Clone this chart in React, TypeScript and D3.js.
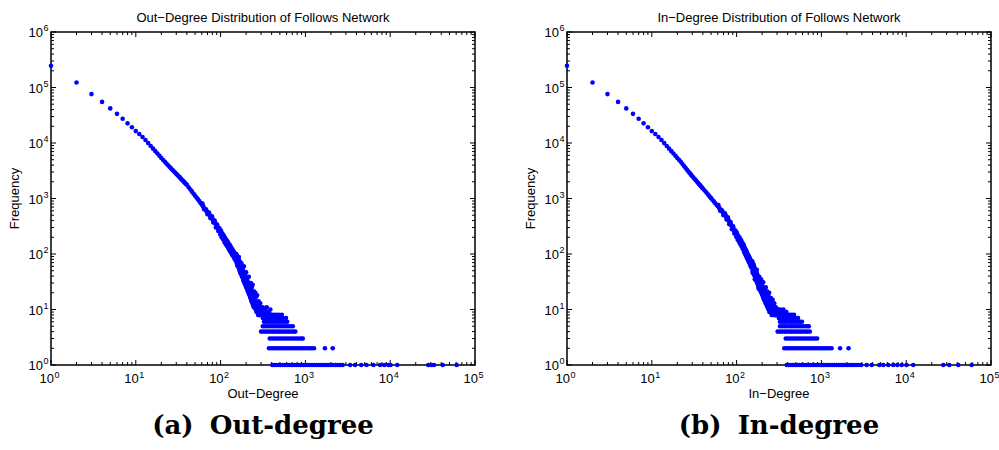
import React from "react";
import * as d3 from "d3";

// ---- out-degree: body of the distribution (degree -> number of users)
const outDeg = [
  1, 2, 3, 4, 5, 6, 7, 8, 9, 10, 11, 12, 13, 14, 15, 16, 17, 18, 19, 20,
  21, 22, 23, 24, 25, 26, 27, 28, 29, 30, 31, 32, 33, 34, 35, 36, 37, 38, 39, 40,
  42, 44, 46, 48, 50, 52, 54, 56, 58, 60, 62, 63, 65, 66, 68, 69, 71, 72, 74, 75,
  77, 78, 80, 81, 83, 84, 86, 87, 89, 90, 92, 93, 95, 96, 98, 100, 102, 104, 106, 108,
  110, 112, 114, 116, 118, 120, 122, 125, 127, 130, 132, 135, 137, 140, 142, 145, 147, 150,
  152, 155, 158, 161, 164, 167, 170, 173, 176, 179, 182, 185, 188, 191, 194, 197, 200,
  203, 206, 209, 212, 215, 218, 221, 224, 227, 230, 233, 236, 239, 242, 245, 248, 251,
  254, 257, 260, 263, 266, 269, 272, 275, 278, 281, 284, 287, 290, 293, 296, 299, 302,
  306, 310, 314, 318, 322, 326, 330, 335, 340, 345, 350, 356, 362, 370, 378, 386, 395,
];
const outFreq = [
  246000, 123000, 76000, 55000, 42000, 33500, 27400, 22600, 19200, 16400, 14500, 12800, 11300, 9950, 8850, 7910, 7130, 6460, 5870, 5380,
  4950, 4570, 4250, 3970, 3720, 3490, 3300, 3100, 2940, 2780, 2650, 2510, 2400, 2280, 2170, 2080, 1990, 1900, 1830, 1760,
  1590, 1455, 1330, 1220, 1125, 1040, 966, 897, 832, 776, 735, 698, 640, 632, 600, 578, 540, 531, 508, 488,
  455, 451, 437, 418, 389, 384, 368, 349, 322, 321, 312, 295, 271, 272, 265, 244, 226, 220, 215, 200,
  185, 182, 181, 167, 153, 154, 152, 140, 128, 127, 127, 116, 106, 106, 107, 98, 88, 90,
  78, 95, 62, 78, 88, 56, 63, 45, 68, 51, 57, 34, 60, 40, 45, 33, 47,
  37, 26, 38, 28, 39, 23, 29, 18, 30, 23, 25, 18, 28, 18, 13, 21, 18,
  13, 20, 14, 17, 10, 18, 11, 13, 9, 14, 10, 12, 8, 13, 9, 10, 8,
  10, 9, 11, 8, 10, 9, 8, 10, 9, 8, 11, 9, 8, 9, 8, 10, 8,
];
// the remaining degrees of the noisy middle part (60..300), shared by both plots
const midDeg = [
  61, 64, 67, 70, 73, 76, 79, 82, 85, 88, 91, 94, 97, 99, 101, 103, 105, 107, 109, 111,
  113, 115, 117, 119, 121, 123, 124, 126, 128, 129, 131, 133, 134, 136, 138, 139, 141, 143, 144, 146,
  148, 149,
  153, 154, 156, 157, 159, 160, 162, 163, 165, 166, 168, 169, 171, 172, 174, 175, 177, 178, 180, 181,
  183, 184, 186, 187, 189, 190, 192, 193, 195, 196, 198, 199, 201, 202, 204, 205, 207, 208, 210, 211,
  213, 214, 216, 217, 219, 220, 222, 223, 225, 226, 228, 229, 231, 232, 234, 235, 237, 238, 240, 241,
  243, 244, 246, 247,
  250, 253, 256, 259, 262, 265, 268, 271, 274, 277, 280, 283, 286, 289, 292, 295, 298,
];
const outMidFreq = [
  810, 640, 640, 520, 560, 440, 480, 370, 400, 300, 340, 260, 290, 225, 265, 200, 235, 185, 215, 165,
  195, 150, 180, 140, 168, 128, 155, 120, 146, 112, 138, 105, 128, 98, 121, 94, 113, 88, 108, 82,
  102, 78,
  100, 70, 92, 64, 85, 60, 82, 57, 76, 52, 72, 48, 70, 46, 63, 43, 60, 40, 55, 38,
  52, 36, 49, 33, 47, 31, 43, 29, 41, 28, 39, 26, 36, 25, 34, 24, 33, 22, 30, 21,
  29, 20, 27, 19, 25, 18, 24, 17, 23, 16, 22, 15, 20, 14, 19, 14, 18, 13, 17, 12,
  16, 12, 15, 11,
  14, 11, 14, 10, 13, 9, 12, 9, 11, 8, 11, 8, 10, 9, 10, 8, 9,
];
// out-degree tail: degrees seen only 1..8 times (list k holds frequency k+1)
const outTail1 = [
  407, 430, 455, 480, 510, 540, 575, 610, 650, 690, 735, 780, 830, 880, 940, 1000,
  1065, 1130, 1200, 1280, 1360, 1450, 1540, 1640, 1750, 1860, 1980, 2100, 2250, 2400,
  2560, 2750, 3370, 3850, 4560, 5250, 6330, 7600, 8500, 9500, 10100, 12100,
  28100, 30900, 32900, 41600, 60800,
];
const outTail2 = [372, 395, 420, 447, 475, 505, 537, 571, 607, 645, 686, 729, 775, 824, 876, 931, 990, 1052, 1118, 1190, 1265, 1700, 2100];
const outTail3 = [380, 405, 430, 458, 487, 518, 551, 586, 623, 662, 704, 749, 796, 846, 900, 930];
const outTail4 = [300, 319, 340, 362, 385, 410, 436, 464, 494, 525, 559, 595, 633, 673, 716, 760];
const outTail5 = [315, 335, 357, 380, 404, 430, 458, 487, 518, 551, 586, 624, 664, 710];
const outTail6 = [325, 346, 368, 392, 417, 444, 472, 502, 534, 568, 610];
const outTail7 = [315, 335, 357, 380, 404, 430, 458, 487, 515, 540, 590];
const outTail8 = [290, 310, 330, 352, 375, 400, 425, 455, 485, 527];

// ---- in-degree
const inDeg = outDeg;
const inFreq = [
  246000, 123000, 76000, 55000, 42000, 33500, 27400, 22600, 19200, 16400, 14500, 12800, 11300, 9950, 8850, 7910, 7130, 6460, 5870, 5380,
  4950, 4570, 4180, 3860, 3560, 3300, 3070, 2860, 2690, 2520, 2380, 2250, 2130, 2020, 1920, 1820, 1740, 1655, 1580, 1510,
  1390, 1280, 1180, 1090, 1015, 942, 880, 822, 771, 723, 690, 661, 625, 604, 580, 557, 520, 516, 498, 478,
  440, 434, 412, 393, 358, 356, 340, 322, 296, 295, 286, 270, 248, 248, 240, 222, 203, 200, 195, 181,
  168, 164, 163, 149, 138, 136, 137, 119, 108, 104, 106, 92, 85, 81, 84, 72, 66, 64,
  67, 46, 64, 48, 35, 51, 38, 52, 32, 36, 24, 39, 32, 24, 35, 24, 29,
  19, 31, 22, 18, 24, 18, 25, 13, 18, 21, 15, 18, 12, 20, 13, 15, 11,
  16, 12, 14, 9, 15, 10, 11, 9, 13, 9, 11, 8, 11, 9, 8, 10, 9,
  8, 10, 8, 9, 8, 10, 8, 9, 8, 9, 8, 10, 8, 9, 8, 9, 8,
];
const inMidFreq = [
  760, 600, 610, 500, 540, 420, 460, 345, 375, 280, 315, 235, 265, 205, 240, 180, 212, 165, 195, 148,
  178, 135, 160, 122, 148, 108, 132, 100, 120, 92, 112, 84, 102, 78, 95, 72, 88, 66, 82, 61,
  76, 57,
  74, 50, 68, 46, 62, 43, 58, 40, 54, 37, 50, 34, 48, 32, 44, 30, 41, 28, 38, 26,
  36, 25, 34, 23, 32, 22, 30, 21, 29, 20, 27, 19, 26, 18, 25, 17, 24, 16, 22, 15,
  21, 15, 20, 14, 19, 13, 18, 13, 17, 12, 17, 12, 16, 11, 15, 11, 14, 10, 14, 10,
  13, 9, 13, 9,
  12, 9, 11, 8, 11, 8, 10, 8, 10, 8, 9, 8, 9, 8, 9, 8, 9,
];
const inTail1 = [
  390, 412, 436, 462, 490, 520, 552, 586, 622, 660, 700, 742, 787, 835, 886, 940, 997,
  1058, 1122, 1190, 1262, 1340, 1420, 1510, 1600, 1700, 1800, 1910, 2030, 2150, 2280,
  2420, 2570, 2750, 2950, 3420, 3920, 4820, 5370, 6150, 7050, 7860, 8850, 10100, 12100,
  27400, 32200, 41200, 59200,
];
const inTail2 = [365, 388, 412, 438, 465, 494, 525, 558, 593, 630, 670, 712, 757, 805, 856, 910, 967, 1028, 1093, 1162, 1235, 1320, 1660, 2090];
const inTail3 = [380, 404, 429, 456, 485, 515, 548, 582, 619, 658, 700, 744, 791, 841, 890];
const inTail4 = [305, 324, 345, 367, 390, 415, 441, 469, 499, 531, 565, 601, 640, 682, 730];
const inTail5 = [325, 346, 368, 392, 417, 444, 472, 502, 534, 568, 604, 642, 683, 710];
const inTail6 = [325, 346, 368, 392, 417, 444, 472, 502, 534, 560, 590];
const inTail7 = [315, 335, 357, 380, 404, 430, 458, 487, 530];
const inTail8 = [285, 305, 326, 348, 371, 395, 420, 447, 476];

const xDomain = [1, 1e5];
const yDomain = [1, 1e6];

const SANS = "'Liberation Sans', Arial, sans-serif";
const SERIF = "'DejaVu Serif', serif";

const isDecade = (v: number) => Math.abs(Math.log10(v) - Math.round(Math.log10(v))) < 1e-9;

type PanelProps = {
  left: number;
  title: string;
  xName: string;
  tag: string;
  capText: string;
  deg: number[];
  freq: number[];
  midFreq: number[];
  tail: number[][];
};

const Panel = ({ left, title, xName, tag, capText, deg, freq, midFreq, tail }: PanelProps) => {
  const top = 32;
  const bottom = 365;
  const right = left + 424;

  const x = d3.scaleLog().domain(xDomain).range([left, right]);
  const y = d3.scaleLog().domain(yDomain).range([bottom, top]);

  // every point of the plot: body, noisy middle, then the low-count tail
  const pts: [number, number][] = deg.map((d, i) => [d, freq[i]]);
  midDeg.forEach((d, i) => pts.push([d, midFreq[i]]));
  tail.forEach((list, k) => list.forEach((d) => pts.push([d, k + 1])));

  const mid = (left + right) / 2;

  return (
    <g>
      <text x={mid} y={22} textAnchor="middle" fontFamily={SANS} fontSize={13}>
        {title}
      </text>

      {/* x ticks, bottom and top, pointing inwards */}
      {x.ticks().map((t, i) => {
        const len = isDecade(t) ? 5 : 3;
        return (
          <g key={"x" + i} stroke="#000" strokeWidth={1}>
            <line x1={x(t)} x2={x(t)} y1={bottom} y2={bottom - len} />
            <line x1={x(t)} x2={x(t)} y1={top} y2={top + len} />
          </g>
        );
      })}
      {/* y ticks, left and right */}
      {y.ticks().map((t, i) => {
        const len = isDecade(t) ? 5 : 3;
        return (
          <g key={"y" + i} stroke="#000" strokeWidth={1}>
            <line x1={left} x2={left + len} y1={y(t)} y2={y(t)} />
            <line x1={right} x2={right - len} y1={y(t)} y2={y(t)} />
          </g>
        );
      })}

      <rect x={left} y={top} width={right - left} height={bottom - top} fill="none" stroke="#000" strokeWidth={1.5} />

      {/* decade labels */}
      {x.ticks().filter(isDecade).map((t, i) => (
        <g key={"xl" + i} fontFamily={SANS}>
          <text x={x(t) + 3} y={bottom + 18} textAnchor="end" fontSize={13}>10</text>
          <text x={x(t) + 3.5} y={bottom + 13} fontSize={9}>{Math.round(Math.log10(t))}</text>
        </g>
      ))}
      {y.ticks().filter(isDecade).map((t, i) => (
        <g key={"yl" + i} fontFamily={SANS}>
          <text x={left - 8} y={y(t) + 5} textAnchor="end" fontSize={13}>10</text>
          <text x={left - 7.5} y={y(t) - 1} fontSize={9}>{Math.round(Math.log10(t))}</text>
        </g>
      ))}

      <text x={mid} y={398} textAnchor="middle" fontFamily={SANS} fontSize={13}>
        {xName}
      </text>
      <text
        transform={`translate(${left - 32},${(top + bottom) / 2}) rotate(-90)`}
        textAnchor="middle"
        fontFamily={SANS}
        fontSize={13}
      >
        Frequency
      </text>

      {pts.map(([d, f], i) => (
        <circle key={"p" + i} cx={x(d)} cy={y(f)} r={2.3} fill="#0000ff" />
      ))}

      <text x={mid} y={434} textAnchor="middle" fontFamily={SERIF} fontWeight="bold" fontSize={26}>
        {tag}
        <tspan dx={7}>{capText}</tspan>
      </text>
    </g>
  );
};

export default function App() {
  return (
    <svg
      width={999}
      height={450}
      style={{ position: "absolute", left: 0, top: 0, background: "#fff" }}
    >
      <rect width={999} height={450} fill="#fff" />
      <Panel
        left={51}
        title="Out−Degree Distribution of Follows Network"
        xName="Out−Degree"
        tag="(a) "
        capText="Out-degree"
        deg={outDeg}
        freq={outFreq}
        midFreq={outMidFreq}
        tail={[outTail1, outTail2, outTail3, outTail4, outTail5, outTail6, outTail7, outTail8]}
      />
      <Panel
        left={567}
        title="In−Degree Distribution of Follows Network"
        xName="In−Degree"
        tag="(b) "
        capText="In-degree"
        deg={inDeg}
        freq={inFreq}
        midFreq={inMidFreq}
        tail={[inTail1, inTail2, inTail3, inTail4, inTail5, inTail6, inTail7, inTail8]}
      />
    </svg>
  );
}
